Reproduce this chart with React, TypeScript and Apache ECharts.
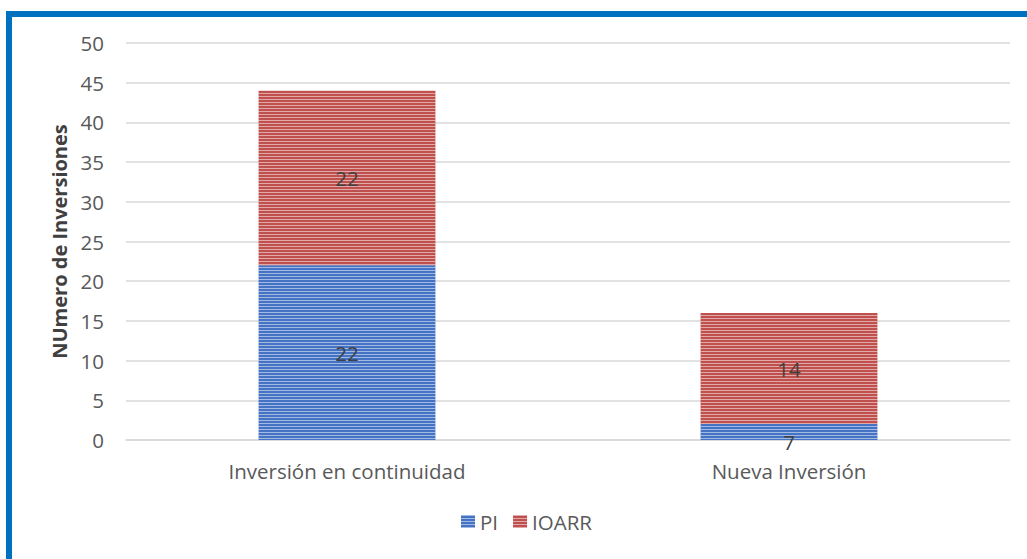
import React, { useEffect, useRef } from "react";
import * as echarts from "echarts";

const categories = ["Inversión en continuidad", "Nueva Inversión"];
const piValues = [22, 2];
const piLabels = ["22", "7"];
const ioarrValues = [22, 14];
const ioarrLabels = ["22", "14"];
const yTicks = [0, 5, 10, 15, 20, 25, 30, 35, 40, 45, 50];

const FONT = "'Open Sans', sans-serif";
const FS = 20.5;

export default function App() {
  const ref = useRef<HTMLDivElement>(null);
  useEffect(() => {
    if (!ref.current) return;
    const chart = echarts.init(ref.current, undefined, { renderer: "svg" });
    const stripe = (c: string) => ({
      symbol: "rect",
      symbolSize: 1,
      dashArrayX: [1, 0],
      dashArrayY: [1, 2],
      rotation: 0,
      color: c,
    });
    chart.setOption({
      animation: false,
      backgroundColor: "#ffffff",
      textStyle: { fontFamily: FONT },
      graphic: [
        {
          type: "rect",
          shape: { x: 9, y: 14, width: 1200, height: 800 },
          style: { fill: "none", stroke: "#0070C0", lineWidth: 6 },
          silent: true,
        },
      ],
      grid: { left: 126, right: 17, top: 43, bottom: 119 },
      legend: {
        bottom: 22,
        left: 456,
        itemWidth: 14,
        itemHeight: 13,
        itemGap: 15,
        icon: "rect",
        textStyle: { fontSize: FS, color: "#595959", fontFamily: FONT },
        data: ["PI", "IOARR"],
      },
      xAxis: {
        type: "category",
        data: categories,
        axisLine: { show: true, lineStyle: { color: "#D9D9D9", width: 1.5 } },
        axisTick: { show: false },
        axisLabel: { fontSize: FS, color: "#595959", margin: 20, fontFamily: FONT },
      },
      yAxis: {
        type: "value",
        min: yTicks[0],
        max: yTicks[yTicks.length - 1],
        interval: 5,
        name: "NUmero de Inversiones",
        nameLocation: "middle",
        nameGap: 54,
        nameTextStyle: { fontSize: 20, fontWeight: "bold", color: "#404040", fontFamily: FONT },
        axisLine: { show: false },
        axisTick: { show: false },
        axisLabel: { fontSize: FS, color: "#595959", margin: 22, fontFamily: FONT },
        splitLine: { lineStyle: { color: "#D9D9D9", width: 1.5 } },
      },
      series: [
        {
          name: "PI",
          type: "bar",
          stack: "total",
          barWidth: "40%",
          itemStyle: { color: "#4472C4", decal: stripe("rgba(255,255,255,0.5)") },
          label: {
            show: true,
            position: "inside",
            fontSize: FS,
            color: "#404040",
            fontFamily: FONT,
            formatter: (p: any) => piLabels[p.dataIndex],
          },
          data: piValues.map((v, i) =>
            i === 1 ? { value: v, label: { offset: [0, 10] } } : v
          ),
        },
        {
          name: "IOARR",
          type: "bar",
          stack: "total",
          barWidth: "40%",
          itemStyle: { color: "#C0504D", decal: stripe("rgba(255,255,255,0.5)") },
          label: {
            show: true,
            position: "inside",
            fontSize: FS,
            color: "#404040",
            fontFamily: FONT,
            formatter: (p: any) => ioarrLabels[p.dataIndex],
          },
          data: ioarrValues,
        },
      ],
    });
    return () => chart.dispose();
  }, []);
  return (
    <div
      ref={ref}
      style={{ position: "fixed", left: 0, top: 0, width: 1027, height: 559 }}
    />
  );
}
